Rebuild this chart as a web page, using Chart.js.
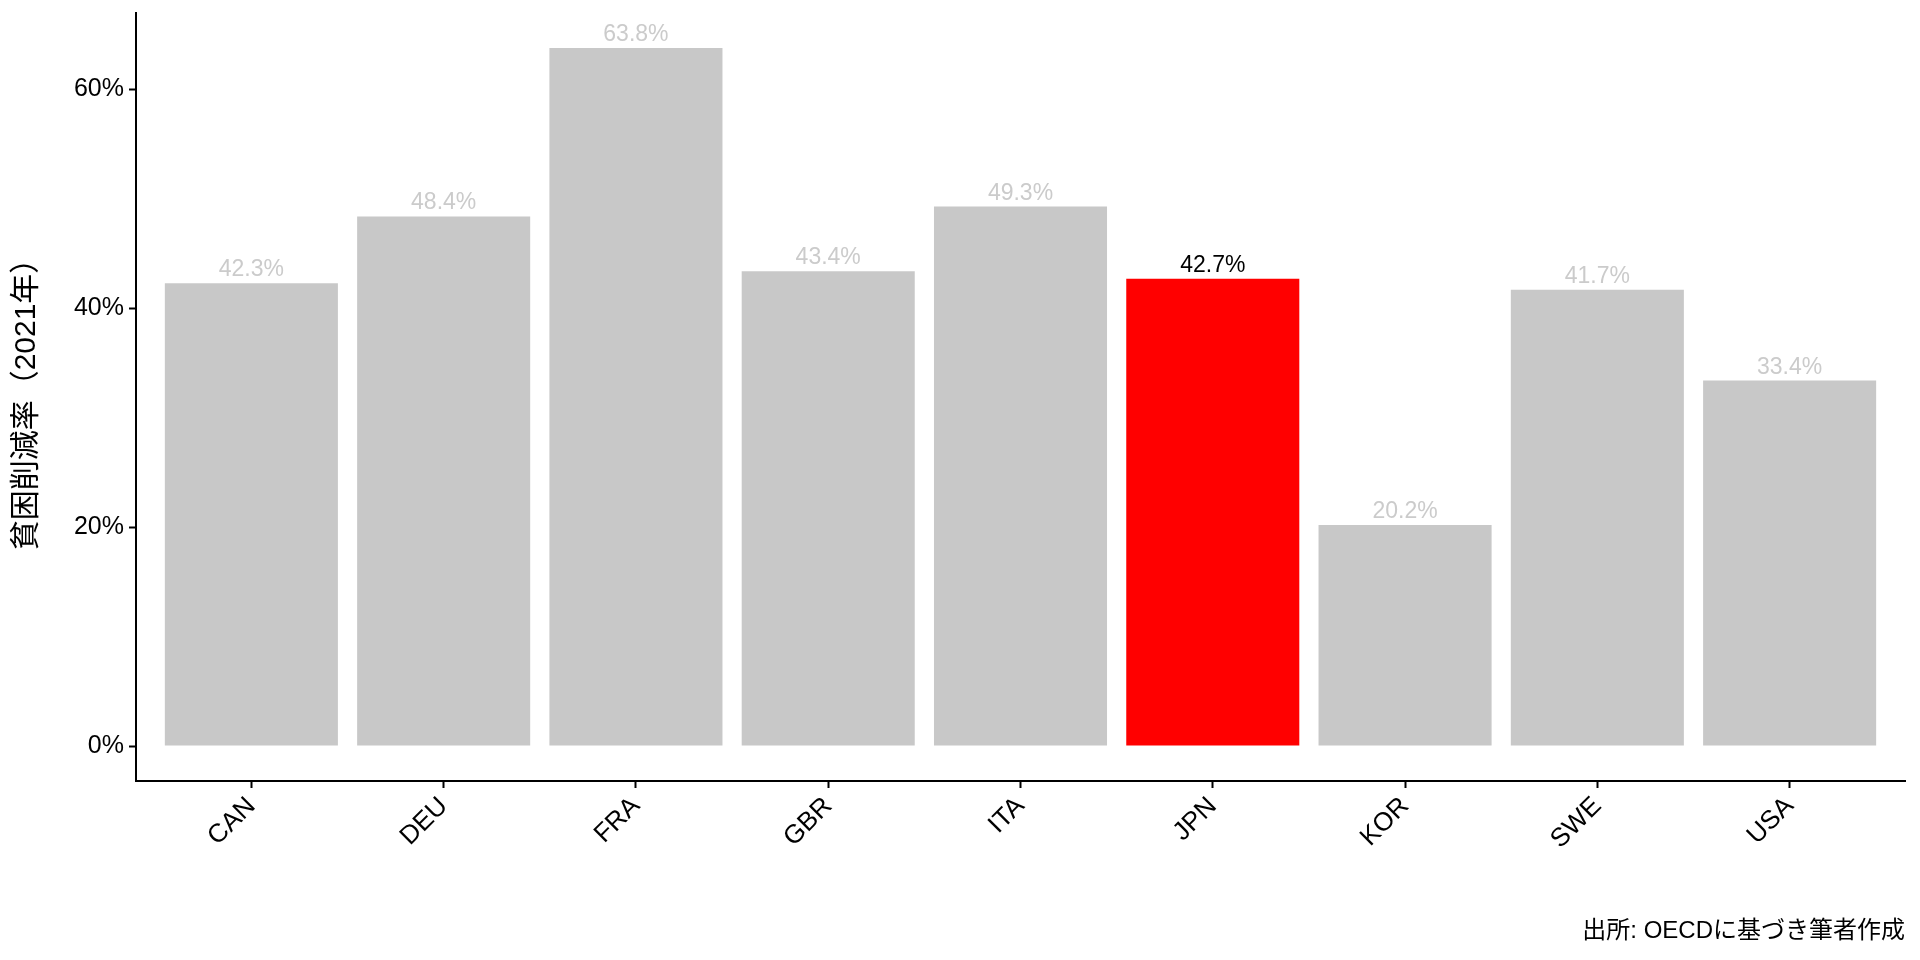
<!DOCTYPE html>
<html>
<head>
<meta charset="utf-8">
<script src="https://cdn.jsdelivr.net/npm/chart.js@4/dist/chart.umd.min.js"></script>
<style>
  html, body { margin: 0; padding: 0; background: #fff; }
  #wrap { width: 1920px; height: 960px; }
</style>
</head>
<body>
<div id="wrap"><canvas id="myChart"></canvas></div>
<script>
let countries = ['CAN', 'DEU', 'FRA', 'GBR', 'ITA', 'JPN', 'KOR', 'SWE', 'USA']
let rates = [42.3, 48.4, 63.8, 43.4, 49.3, 42.7, 20.2, 41.7, 33.4]
let highlight = 'JPN'
let yTicks = [0, 20, 40, 60]

let fontFam = "'Liberation Sans', 'Noto Sans CJK JP', sans-serif"
let capSize = 24

let barColors = countries.map(c => c === highlight ? '#ff0000' : '#c8c8c8')
let labelColors = countries.map(c => c === highlight ? '#000000' : '#cbcbcb')

// ggplot-style padding of the value range
let yMax = Math.max(...rates)
let yMin = 0 - yMax * 0.05
let yTop = yMax * 1.05

// value labels above bars
const barLabels = {
  id: 'barLabels',
  afterDatasetsDraw(chart) {
    const c = chart.ctx
    const meta = chart.getDatasetMeta(0)
    c.save()
    c.font = '23px ' + fontFam
    c.textAlign = 'center'
    c.textBaseline = 'alphabetic'
    meta.data.forEach((bar, i) => {
      c.fillStyle = labelColors[i]
      c.fillText(rates[i].toFixed(1) + '%', bar.x, bar.y - 7)
    })
    c.restore()
  }
}

const ctx = document.getElementById('myChart')

let myChart = new Chart(ctx, {
  type: 'bar',
  data: {
    datasets: [{
      data: countries.map((c, i) => ({ x: i, y: rates[i] })),
      backgroundColor: barColors,
      borderWidth: 0,
      categoryPercentage: 0.9,
      barPercentage: 1.0
    }]
  },
  options: {
    responsive: true,
    maintainAspectRatio: false,
    animation: false,
    events: [],
    layout: { padding: { left: 0, right: 15, top: 13, bottom: 0 } },
    plugins: {
      legend: { display: false },
      tooltip: { enabled: false },
      title: {
        display: true,
        text: '出所: OECDに基づき筆者作成',
        position: 'bottom',
        align: 'end',
        color: '#000',
        font: { family: fontFam, size: capSize, weight: 'normal', lineHeight: 1.2 },
        padding: { top: 0, bottom: 14 }
      }
    },
    scales: {
      x: {
        type: 'linear',
        offset: false,
        min: -0.6,
        max: countries.length - 1 + 0.6,
        afterBuildTicks: axis => { axis.ticks = countries.map((c, i) => ({ value: i })) },
        afterFit: s => { s.height = 960 - 781 - (capSize * 1.2 + 14); s.paddingLeft = 0; s.paddingRight = 0 },
        ticks: {
          autoSkip: false,
          minRotation: 45,
          maxRotation: 45,
          padding: 3,
          color: '#000',
          font: { family: fontFam, size: 26 },
          callback: v => countries[v]
        },
        grid: { offset: false, drawOnChartArea: false, drawTicks: true, tickLength: 7, tickWidth: 2, tickColor: '#000' },
        border: { display: true, color: '#000', width: 2 }
      },
      y: {
        min: yMin,
        max: yTop,
        afterBuildTicks: axis => { axis.ticks = yTicks.map(v => ({ value: v })) },
        afterFit: s => { s.width = 136; s.paddingTop = 0; s.paddingBottom = 0 },
        ticks: {
          padding: 5,
          color: '#000',
          font: { family: fontFam, size: 25 },
          callback: v => v + '%'
        },
        grid: { drawOnChartArea: false, drawTicks: true, tickLength: 7, tickWidth: 2, tickColor: '#000' },
        border: { display: true, color: '#000', width: 2 },
        title: {
          display: true,
          text: '貧困削減率（2021年）',
          color: '#000',
          font: { family: fontFam, size: 30, lineHeight: 1.2 },
          padding: { top: 9, bottom: 0 }
        }
      }
    }
  },
  plugins: [barLabels]
})
</script>
</body>
</html>
